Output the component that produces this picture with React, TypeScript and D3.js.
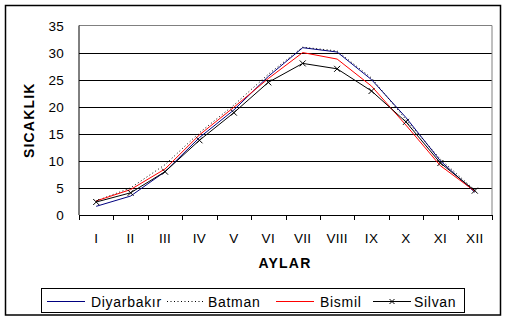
import React from "react";
import * as d3 from "d3";

const months = ["I", "II", "III", "IV", "V", "VI", "VII", "VIII", "IX", "X", "XI", "XII"];
const diyarbakir = [1.6, 3.5, 8.0, 14.3, 19.4, 25.6, 30.9, 30.1, 25.0, 18.0, 10.0, 4.2];
const batman = [2.6, 5.0, 9.3, 15.2, 20.3, 26.0, 31.0, 30.3, 25.3, 17.6, 10.3, 4.6];
const bismil = [2.6, 4.7, 8.5, 14.8, 19.9, 25.2, 30.0, 28.8, 23.8, 16.6, 9.1, 4.4];
const silvan = [2.4, 4.1, 8.0, 13.8, 18.9, 24.5, 28.0, 27.0, 22.9, 17.2, 9.6, 4.5];
const yTicks = [0, 5, 10, 15, 20, 25, 30, 35];

const W = 508, H = 322;
const L = 79, R = 492, T = 25.5, B = 215;
const FONT = "'Liberation Sans', Arial, sans-serif";

export default function App() {
  const x = d3.scaleBand<string>().domain(months).range([L, R]);
  const y = d3.scaleLinear().domain([0, 35]).range([B, T]);
  const cx = (m: string) => (x(m) as number) + x.bandwidth() / 2;
  const line = d3.line<number>().x((_, i) => cx(months[i])).y((v) => y(v));

  const series = [
    { name: "Diyarbakır", data: diyarbakir, color: "#000080", dash: undefined as string | undefined, marker: false },
    { name: "Batman", data: batman, color: "#000000", dash: "1,2.5", marker: false },
    { name: "Bismil", data: bismil, color: "#ff0000", dash: undefined, marker: false },
    { name: "Silvan", data: silvan, color: "#000000", dash: undefined, marker: true },
  ];

  const tickPos = months.map((m) => x(m) as number).concat([R]);

  const xMark = (px: number, py: number, key: string, s = 3) => (
    <path key={key} d={`M${px - s},${py - s}L${px + s},${py + s}M${px - s},${py + s}L${px + s},${py - s}`} stroke="#000" strokeWidth={1} fill="none" />
  );

  const legendItems = [
    { x0: 47, tx: 91 },
    { x0: 167, tx: 208 },
    { x0: 276, tx: 320 },
    { x0: 373, tx: 414 },
  ];

  return (
    <svg width={W} height={H} style={{ position: "absolute", left: 0, top: 0, background: "#fff" }} fontFamily={FONT}>
      <rect x={0} y={0} width={W} height={H} fill="#fff" />
      <rect x={5.5} y={5.5} width={495} height={309.5} fill="none" stroke="#000" strokeWidth={1.5} />
      {yTicks.filter((t) => t > 0 && t < 35).map((t) => (
        <line key={t} x1={L} x2={R} y1={Math.round(y(t)) + 0.5} y2={Math.round(y(t)) + 0.5} stroke="#000" strokeWidth={1} />
      ))}
      <line x1={L} x2={R} y1={T} y2={T} stroke="#808080" strokeWidth={1} />
      <line x1={R} x2={R} y1={T} y2={B} stroke="#808080" strokeWidth={1} />
      <line x1={L} x2={L} y1={T} y2={B} stroke="#000" strokeWidth={1} />
      <line x1={L} x2={R} y1={B + 0.5} y2={B + 0.5} stroke="#000" strokeWidth={1} />
      {tickPos.map((p, i) => (
        <line key={i} x1={Math.round(p) + 0.5} x2={Math.round(p) + 0.5} y1={B} y2={B + 5} stroke="#000" strokeWidth={1} />
      ))}
      {yTicks.map((t) => (
        <text key={t} x={64} y={y(t) + 5} textAnchor="end" fontSize={13.5} letterSpacing={0.3}>{t}</text>
      ))}
      {months.map((m) => (
        <text key={m} x={cx(m)} y={243} textAnchor="middle" fontSize={13.5} letterSpacing={0.3}>{m}</text>
      ))}
      <text x={285} y={268} textAnchor="middle" fontSize={14} fontWeight="bold" letterSpacing={1.2}>AYLAR</text>
      <text transform={`translate(34,${(T + B) / 2}) rotate(-90)`} textAnchor="middle" fontSize={14} fontWeight="bold" letterSpacing={1.2}>SICAKLIK</text>
      {series.map((s) => (
        <g key={s.name}>
          <path d={line(s.data) as string} fill="none" stroke={s.color} strokeWidth={1} strokeDasharray={s.dash} />
          {s.marker && s.data.map((v, i) => xMark(cx(months[i]), y(v), `${s.name}${i}`))}
        </g>
      ))}
      <rect x={41.5} y={288.5} width={423} height={24} fill="#fff" stroke="#000" strokeWidth={1} />
      {series.map((s, i) => {
        const it = legendItems[i];
        return (
          <g key={s.name}>
            <line x1={it.x0} x2={it.x0 + 38} y1={301.5} y2={301.5} stroke={s.color} strokeWidth={1} strokeDasharray={s.dash} />
            {s.marker && xMark(it.x0 + 19, 301.5, "lm", 2.5)}
            <text x={it.tx} y={307} fontSize={14} letterSpacing={0.7}>{s.name}</text>
          </g>
        );
      })}
    </svg>
  );
}
